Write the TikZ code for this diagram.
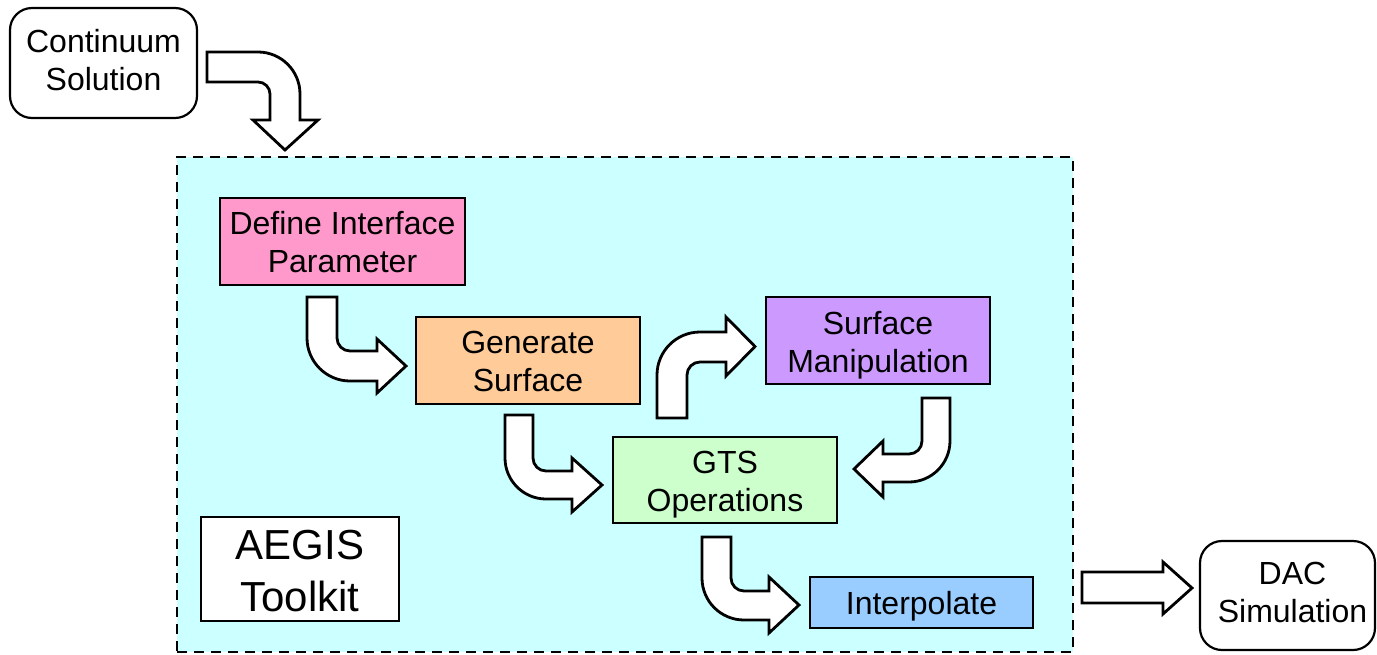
\documentclass[tikz,border=0pt]{standalone}
\usepackage{fontspec}
\setmainfont{Liberation Sans}
\definecolor{cyanbg}{HTML}{CCFFFF}
\definecolor{pinkbox}{HTML}{FF99CC}
\definecolor{orangebox}{HTML}{FFCC99}
\definecolor{purplebox}{HTML}{CC99FF}
\definecolor{greenbox}{HTML}{CCFFCC}
\definecolor{bluebox}{HTML}{99CCFF}
\begin{document}
\begin{tikzpicture}[x=0.5pt,y=-0.5pt,
  box/.style={draw=black, line width=1.1pt, align=center, inner sep=0pt},
  rbox/.style={box, rounded corners=11pt, fill=white},
  txt/.style={align=center, inner sep=0pt, font=\fontsize{16}{19}\selectfont},
  barrow/.style={draw=black, fill=white, line width=1.4pt, line join=miter}]
\useasboundingbox (0,0) rectangle (1377,654);
% frame
\node[draw=black, dashed, dash pattern=on 5pt off 3.5pt, line width=1pt, fill=cyanbg,
  minimum width=448pt, minimum height=247.5pt, inner sep=0pt] (frame) at (625,404.5) {};
% nodes
\node[rbox, minimum width=93.5pt, minimum height=55pt] (cont) at (103.5,63) {};
\node[txt] (contT) at ([yshift=1.5pt]cont.center) {Continuum\\Solution};
\node[box, fill=pinkbox, minimum width=122.5pt, minimum height=43.5pt] (define) at (342.5,241.5) {};
\node[txt] (defineT) at ([yshift=-0.5pt]define.center) {Define Interface\\Parameter};
\node[box, fill=orangebox, minimum width=112pt, minimum height=43.5pt] (gen) at (528,360.5) {};
\node[txt] (genT) at ([yshift=-0.5pt]gen.center) {Generate\\Surface};
\node[box, fill=purplebox, minimum width=112pt, minimum height=43.5pt] (surf) at (878,340.5) {};
\node[txt] (surfT) at ([yshift=-2.5pt]surf.center) {Surface\\Manipulation};
\node[box, fill=greenbox, minimum width=112pt, minimum height=43pt] (gts) at (725,480) {};
\node[txt] (gtsT) at ([yshift=-2.5pt]gts.center) {GTS\\Operations};
\node[box, fill=bluebox, minimum width=111.5pt, minimum height=25.5pt] (interp) at (921.5,602.5) {};
\node[txt] (interpT) at ([yshift=-2pt]interp.center) {Interpolate};
\node[box, fill=white, minimum width=99pt, minimum height=52pt] (aegis) at (300,569) {};
\node[txt, font=\fontsize{21}{26}\selectfont] (aegisT) at ([yshift=-1pt]aegis.center) {AEGIS\\Toolkit};
\node[rbox, minimum width=87.5pt, minimum height=54.5pt] (dac) at (1287.5,595.5) {};
\node[txt] (dacT) at ([xshift=2.5pt,yshift=1.5pt]dac.center) {DAC\\Simulation};
% block arrows
\draw[barrow] (207,52) -- (258,52) .. controls (281.2,52) and (300,70.8) .. (300,94)
  -- (300,120) -- (318,120) -- (285,150) -- (253,120) -- (270,120) -- (270,94)
  .. controls (270,87.4) and (264.6,82) .. (258,82) -- (207,82) -- cycle;
\draw[barrow] (307,297) -- (307,338) .. controls (307,361.7) and (326.3,381) .. (350,381)
  -- (377,381) -- (377,393) -- (406,366) -- (377,339) -- (377,351) -- (350,351)
  .. controls (342.8,351) and (337,345.2) .. (337,338) -- (337,297) -- cycle;
\draw[barrow] (505,415) -- (505,458) .. controls (505,480.6) and (523.4,499) .. (546,499)
  -- (572,499) -- (572,512) -- (602,485) -- (572,458) -- (572,471) -- (546,471)
  .. controls (538.8,471) and (533,465.2) .. (533,458) -- (533,415) -- cycle;
\draw[barrow] (702,537) -- (702,578) .. controls (702,601.2) and (720.8,620) .. (744,620)
  -- (769,620) -- (769,633) -- (799,605) -- (769,577) -- (769,591) -- (744,591)
  .. controls (736.8,591) and (731,585.2) .. (731,578) -- (731,537) -- cycle;
\draw[barrow] (657,418) -- (657,375) .. controls (657,351.3) and (676.3,332) .. (700,332)
  -- (726,332) -- (726,317) -- (755,346.5) -- (726,376) -- (726,362) -- (700,362)
  .. controls (692.8,362) and (687,367.8) .. (687,375) -- (687,418) -- cycle;
\draw[barrow] (950,398) -- (950,441) .. controls (950,463.6) and (931.6,482) .. (909,482)
  -- (883,482) -- (883,497) -- (854,469) -- (883,441) -- (883,454) -- (909,454)
  .. controls (916.2,454) and (922,448.2) .. (922,441) -- (922,398) -- cycle;
\draw[barrow] (1082,572) -- (1163,572) -- (1163,562) -- (1192,588) -- (1163,614)
  -- (1163,603) -- (1082,603) -- cycle;
\end{tikzpicture}
\end{document}
